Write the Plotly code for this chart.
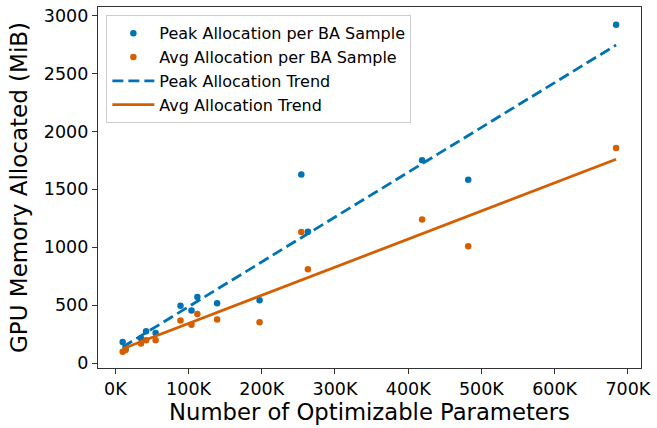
import plotly.graph_objects as go

# Data
params = [10000, 14000, 35000, 42000, 55000, 89000, 104000, 112000, 139000,
          197000, 254000, 263000, 419000, 482000, 684000]
peak_mib = [184, 125, 215, 275, 261, 497, 454, 572, 517,
            543, 1629, 1135, 1750, 1583, 2920]
avg_mib = [100, 115, 170, 198, 198, 368, 331, 425, 378,
           353, 1132, 810, 1239, 1009, 1856]

trend_x = [10000, 684000]
peak_trend = [140, 2745]
avg_trend = [125, 1760]

x_tick_vals = [0, 100000, 200000, 300000, 400000, 500000, 600000, 700000]
x_tick_text = ["0K", "100K", "200K", "300K", "400K", "500K", "600K", "700K"]
y_tick_vals = [0, 500, 1000, 1500, 2000, 2500, 3000]

BLUE = "#0173b2"
ORANGE = "#d55e00"
FONT = "DejaVu Sans"

fig = go.Figure()
fig.add_trace(go.Scatter(x=params, y=peak_mib, mode="markers",
                         marker=dict(color=BLUE, size=6.5),
                         name="Peak Allocation per BA Sample"))
fig.add_trace(go.Scatter(x=params, y=avg_mib, mode="markers",
                         marker=dict(color=ORANGE, size=6.5),
                         name="Avg Allocation per BA Sample"))
fig.add_trace(go.Scatter(x=trend_x, y=peak_trend, mode="lines",
                         line=dict(color=BLUE, width=2.8, dash="11px,5px"),
                         name="Peak Allocation Trend"))
fig.add_trace(go.Scatter(x=trend_x, y=avg_trend, mode="lines",
                         line=dict(color=ORANGE, width=2.8),
                         name="Avg Allocation Trend"))

axis_common = dict(showline=True, linecolor="#333333", linewidth=1.3, mirror=True,
                   ticks="outside", ticklen=5, tickwidth=1.2, tickcolor="#333333",
                   showgrid=False, zeroline=False,
                   tickfont=dict(family=FONT, size=17.5, color="black"))

fig.update_xaxes(range=[-23700, 718000], tickvals=x_tick_vals, ticktext=x_tick_text,
                 title=dict(text="Number of Optimizable Parameters",
                            font=dict(family=FONT, size=22.7, color="black"), standoff=5),
                 **axis_common)
fig.update_yaxes(range=[-41, 3073], tickvals=y_tick_vals,
                 title=dict(text="GPU Memory Allocated (MiB)",
                            font=dict(family=FONT, size=23, color="black"), standoff=9),
                 **axis_common)

fig.update_layout(
    width=657, height=428,
    margin=dict(l=98, r=14, t=6, b=60),
    plot_bgcolor="white", paper_bgcolor="white",
    font=dict(family=FONT, color="black"),
    legend=dict(x=0.0154, y=0.977, xanchor="left", yanchor="top",
                bgcolor="rgba(255,255,255,0.8)", bordercolor="#cccccc", borderwidth=1,
                font=dict(family=FONT, size=16, color="black"),
                tracegroupgap=0, itemwidth=42),
)

fig.write_html("out.html")
